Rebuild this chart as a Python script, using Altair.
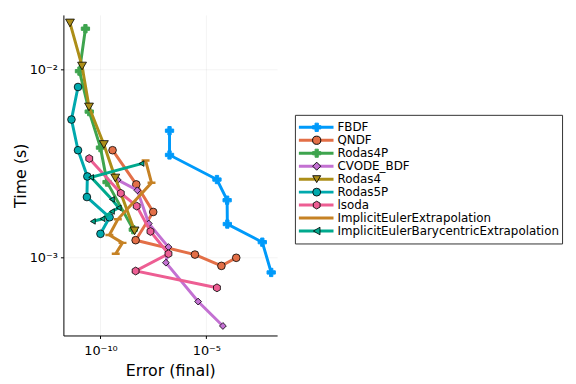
import altair as alt
import pandas as pd
import math

# ---------------- data ----------------
series_names = ["FBDF", "QNDF", "Rodas4P", "CVODE_BDF", "Rodas4", "Rodas5P",
                "lsoda", "ImplicitEulerExtrapolation",
                "ImplicitEulerBarycentricExtrapolation"]

fbdf_err = [1.82e-7, 1.82e-7, 3.16e-5, 9.55e-5, 9.77e-5, 4.37e-3, 1.15e-2]
fbdf_time = [4.72e-3, 3.51e-3, 2.60e-3, 2.02e-3, 1.51e-3, 1.21e-3, 8.36e-4]

qndf_err = [3.72e-10, 4.90e-9, 3.09e-8, 4.57e-9, 2.88e-6, 5.13e-5, 2.57e-4]
qndf_time = [3.72e-3, 2.45e-3, 1.75e-3, 1.24e-3, 1.04e-3, 9.06e-4, 1.00e-3]

rodas4p_err = [1.95e-11, 1.02e-11, 2.95e-11, 1.00e-10, 2.04e-10, 3.55e-9]
rodas4p_time = [1.64e-2, 9.77e-3, 5.96e-3, 3.84e-3, 2.52e-3, 1.41e-3]

cvode_err = [6.46e-10, 5.50e-9, 1.91e-8, 1.62e-7, 1.23e-7, 4.07e-6, 6.03e-5]
cvode_time = [2.59e-3, 2.28e-3, 1.52e-3, 1.14e-3, 9.42e-4, 5.86e-4, 4.35e-4]

rodas4_err = [3.63e-12, 1.35e-11, 2.88e-11, 1.45e-10, 5.01e-10, 4.07e-9]
rodas4_time = [1.76e-2, 1.04e-2, 6.31e-3, 3.99e-3, 2.65e-3, 1.39e-3]

rodas5p_err = [8.71e-12, 4.27e-12, 8.71e-12, 2.40e-11, 2.29e-11, 2.69e-10, 1.00e-10]
rodas5p_time = [8.05e-3, 5.41e-3, 3.72e-3, 2.70e-3, 2.10e-3, 1.64e-3, 1.34e-3]

lsoda_err = [2.95e-11, 9.12e-10, 5.13e-9, 2.29e-8, 1.62e-7, 4.57e-9, 3.16e-5]
lsoda_time = [3.36e-3, 2.20e-3, 1.88e-3, 1.38e-3, 1.05e-3, 8.51e-4, 6.93e-4]

iee_err = [1.35e-8, 2.57e-8, 6.61e-10, 2.63e-10, 1.10e-9, 5.25e-10]
iee_time = [3.28e-3, 2.50e-3, 1.60e-3, 1.32e-3, 1.20e-3, 1.05e-3]

iebe_err = [8.71e-9, 3.63e-11, 3.47e-10, 7.24e-10, 3.47e-10, 1.26e-10, 4.37e-11]
iebe_time = [3.16e-3, 2.67e-3, 2.04e-3, 1.84e-3, 1.76e-3, 1.61e-3, 1.56e-3]

all_err = [fbdf_err, qndf_err, rodas4p_err, cvode_err, rodas4_err, rodas5p_err,
           lsoda_err, iee_err, iebe_err]
all_time = [fbdf_time, qndf_time, rodas4p_time, cvode_time, rodas4_time,
            rodas5p_time, lsoda_time, iee_time, iebe_time]

x_tick_values = [1e-10, 1e-5]
x_tick_labels = ["10\u207b\u00b9\u2070", "10\u207b\u2075"]
y_tick_values = [1e-3, 1e-2]
y_tick_labels = ["10\u207b\u00b3", "10\u207b\u00b2"]

# ---------------- styles ----------------
colors = ["#009AFA", "#E36F47", "#3EA44E", "#C371D2", "#AC8E18", "#00A9AD",
          "#ED5E93", "#C68225", "#00A98D"]
hexagon = "M0,-1L0.866,-0.5L0.866,0.5L0,1L-0.866,0.5L-0.866,-0.5Z"
shapes = ["cross", "circle", "cross", "diamond", "triangle-down", "circle",
          hexagon, "stroke", "triangle-left"]
sizes = [70, 60, 70, 48, 80, 60, 64, 64, 32]
strokes = [colors[0], "black", colors[2], "black", "black", "black", "black",
           colors[7], "black"]
stroke_widths = [1, 0.8, 1, 0.8, 0.8, 0.8, 0.8, 2.5, 0.8]

FONT = "DejaVu Sans"

rows = []
for name, errs, times in zip(series_names, all_err, all_time):
    for i, (e, t) in enumerate(zip(errs, times)):
        rows.append({"series": name, "idx": i, "err": e, "time": t})
df = pd.DataFrame(rows)


def label_expr(values, labels):
    expr = "''"
    for v, l in zip(values, labels):
        p = round(math.log10(v))
        expr = f"round(log(datum.value)/LN10) == {p} ? '{l}' : ({expr})"
    return expr


x_scale = alt.Scale(type="log", domain=[10 ** -11.75, 10 ** -1.66], nice=False)
y_scale = alt.Scale(type="log", domain=[10 ** -3.412, 10 ** -1.712], nice=False)

x_enc = alt.X("err:Q", scale=x_scale,
              axis=alt.Axis(title="Error (final)", values=x_tick_values,
                            labelExpr=label_expr(x_tick_values, x_tick_labels),
                            labelPadding=6, titlePadding=5))
y_enc = alt.Y("time:Q", scale=y_scale,
              axis=alt.Axis(title="Time (s)", values=y_tick_values,
                            labelExpr=label_expr(y_tick_values, y_tick_labels),
                            labelPadding=3, titlePadding=1))

layers = []
for k, name in enumerate(series_names):
    base = alt.Chart(df).transform_filter(alt.datum.series == name)
    line = base.mark_line(color=colors[k], strokeWidth=3, clip=True).encode(
        x=x_enc, y=y_enc, order="idx:Q")
    pts = base.mark_point(shape=shapes[k], size=sizes[k], fill=colors[k],
                          stroke=strokes[k], strokeWidth=stroke_widths[k],
                          opacity=1, fillOpacity=1, filled=(shapes[k] != "stroke"),
                          clip=True).encode(x=x_enc, y=y_enc)
    layers += [line, pts]

main = alt.layer(*layers).properties(width=216, height=324)

# ---------------- legend ----------------
leg_df = pd.DataFrame({"series": series_names})
leg_y = alt.Y("series:N", sort=series_names,
              scale=alt.Scale(type="point", padding=0.96), axis=None)
leg_color = alt.Color("series:N", scale=alt.Scale(domain=series_names, range=colors),
                      legend=None)
leg_line = alt.Chart(leg_df).mark_rule(strokeWidth=3).encode(
    x=alt.value(4), x2=alt.value(39), y=leg_y, color=leg_color)
leg_pts = alt.Chart(leg_df).mark_point(opacity=1, filled=True).encode(
    x=alt.value(22), y=leg_y,
    shape=alt.Shape("series:N", scale=alt.Scale(domain=series_names, range=shapes), legend=None),
    fill=alt.Fill("series:N", scale=alt.Scale(domain=series_names, range=colors), legend=None),
    stroke=alt.Stroke("series:N", scale=alt.Scale(domain=series_names, range=strokes), legend=None),
    strokeWidth=alt.StrokeWidth("series:N", scale=alt.Scale(domain=series_names, range=stroke_widths), legend=None),
    size=alt.Size("series:N", scale=alt.Scale(domain=series_names, range=sizes), legend=None),
)
leg_text = alt.Chart(leg_df).mark_text(align="left", baseline="middle", font=FONT,
                                       fontSize=12, color="black").encode(
    x=alt.value(43), y=leg_y, text="series:N")
legend = alt.layer(leg_line, leg_pts, leg_text).properties(
    width=270, height=130,
    view=alt.ViewBackground(stroke="#333333", strokeWidth=1, fill="white"))

spacer = alt.Chart(pd.DataFrame({"v": [0]})).mark_point(opacity=0).encode(
    x=alt.X("v:Q", axis=None), y=alt.Y("v:Q", axis=None)).properties(
    width=270, height=100, view=alt.ViewBackground(stroke=None))

legend_col = alt.vconcat(spacer, legend, spacing=0)

chart = alt.hconcat(main, legend_col, spacing=17).configure_view(
    stroke=None
).configure_axis(
    grid=True, gridColor="#000000", gridOpacity=0.1, gridWidth=0.5,
    domainColor="black", domainWidth=1, tickColor="black", tickSize=3,
    labelFont=FONT, labelFontSize=13, labelColor="black",
    titleFont=FONT, titleFontSize=16, titleFontWeight="normal", titleColor="black",
).properties(
    background="white",
    padding={"left": 4, "top": 5, "right": 5, "bottom": 0}
)

chart.save("out.html", embed_options={"renderer": "svg", "actions": False})
